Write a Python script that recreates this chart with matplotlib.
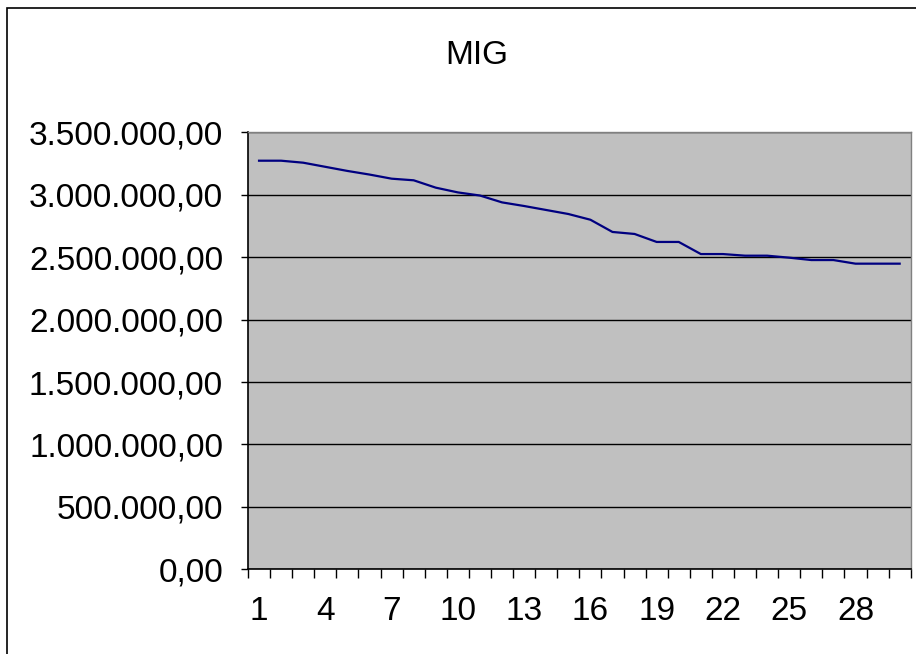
import matplotlib.pyplot as plt
from matplotlib.patches import Rectangle
from matplotlib.ticker import FuncFormatter, MultipleLocator

# MIG values per period
periods = list(range(1, 31))
mig = [3274000, 3274000, 3258000, 3225000, 3192000, 3163000, 3130000, 3117000,
       3058000, 3020000, 2995000, 2940000, 2911000, 2879000, 2847000, 2801000,
       2703000, 2687000, 2623000, 2623000, 2526000, 2526000, 2513000, 2513000,
       2497000, 2478000, 2478000, 2449000, 2449000, 2449000]
x_labels = [str(p) for p in range(1, 31, 3)]

plt.rcParams['font.family'] = ['Liberation Sans', 'DejaVu Sans']


def fmt_brl(v, pos):
    s = f"{v:,.2f}"
    return s.replace(',', 'X').replace('.', ',').replace('X', '.')


fig = plt.figure(figsize=(9.16, 6.54), dpi=100)
# outer chart border
fig.patches.append(Rectangle((7 / 916, -0.01), 1.0, 1 - 8 / 654 + 0.01,
                             transform=fig.transFigure, fill=False,
                             edgecolor='black', linewidth=1.2))

ax = fig.add_axes([248 / 916, (654 - 569.3) / 654, 662.7 / 916, 436.8 / 654])
ax.set_facecolor('#C0C0C0')
ax.plot(periods, mig, color='#000080', linewidth=1.6)

ax.set_xlim(0.5, 30.5)
ax.set_ylim(0, 3500000)
ax.yaxis.set_major_locator(MultipleLocator(500000))
ax.yaxis.set_major_formatter(FuncFormatter(fmt_brl))
ax.grid(axis='y', color='black', linewidth=1.0)
ax.set_axisbelow(True)

ax.set_xticks(list(range(1, 31, 3)))
ax.set_xticklabels(x_labels)
ax.set_xticks([p + 0.5 for p in range(0, 31)], minor=True)
ax.tick_params(axis='x', which='major', length=0, pad=19, labelsize=24)
ax.tick_params(axis='x', which='minor', length=6.5, width=1, direction='out')
ax.tick_params(axis='y', length=5, width=1, direction='out', pad=13, labelsize=24)

for side in ('left', 'bottom'):
    ax.spines[side].set_color('black')
    ax.spines[side].set_linewidth(1.2)
for side in ('top', 'right'):
    ax.spines[side].set_color('#808080')
    ax.spines[side].set_linewidth(1.0)

fig.text(477 / 916, 1 - 55 / 654, 'MIG', ha='center', va='center', fontsize=24)

fig.savefig('out.png', dpi=100)
